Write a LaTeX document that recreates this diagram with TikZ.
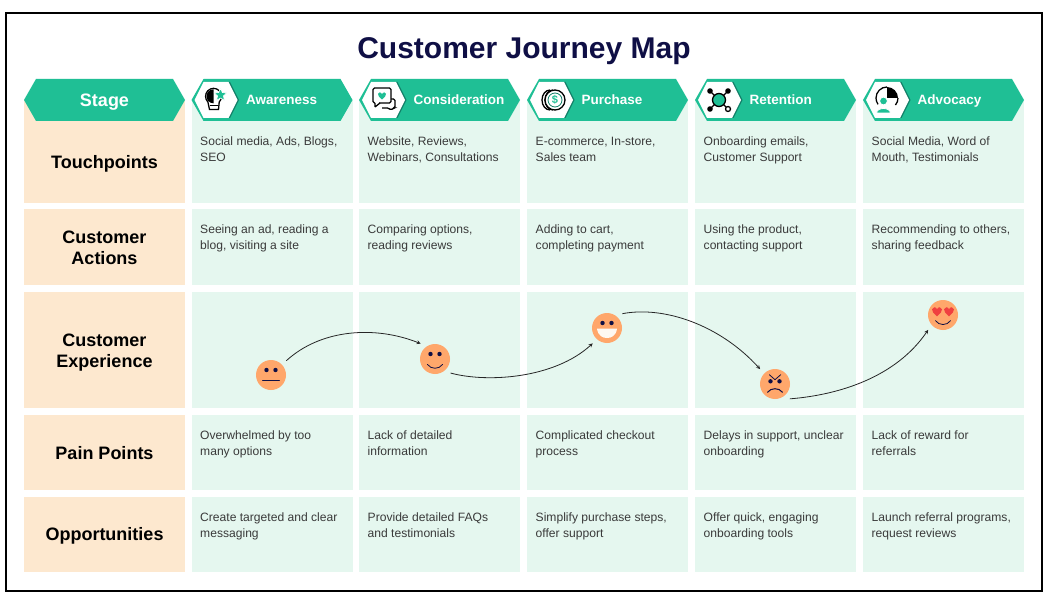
\documentclass[tikz,border=0pt]{standalone}
\usepackage{fontspec}
\setmainfont{Liberation Sans}
\usetikzlibrary{positioning, shapes.geometric}
\definecolor{headgreen}{HTML}{1FBF95}
\definecolor{edgegreen}{HTML}{128068}
\definecolor{cellgreen}{HTML}{E5F7EF}
\definecolor{peach}{HTML}{FDE8CF}
\definecolor{faceorange}{HTML}{FFA76B}
\definecolor{navy}{HTML}{0F0F45}
\definecolor{heartred}{HTML}{F04040}
\definecolor{inktext}{HTML}{3A3A3A}
\tikzset{
  labelcell/.style={fill=peach, anchor=north west, minimum width=161pt, inner sep=0pt},
  labeltext/.style={inner sep=0pt, align=center, font=\fontsize{18}{21}\selectfont\bfseries},
  cell/.style={fill=cellgreen, anchor=north west, minimum width=161pt, inner sep=0pt},
  celltext/.style={anchor=north west, inner sep=0pt, align=left, text=inktext, font=\fontsize{12.1}{16}\selectfont},
  headtext/.style={anchor=base west, inner sep=0pt, text=white, font=\fontsize{13.5}{15}\selectfont\bfseries},
  face/.style={circle, fill=faceorange, minimum size=30pt, inner sep=0pt, outer sep=6pt},
  flow/.style={-stealth, line width=.8pt, draw=black!85},
  eye/.style={fill=navy},
  mouth/.style={draw=navy, line width=.8pt, line cap=round},
  iconline/.style={draw=black, line width=1.3pt}
}
\newcommand{\heartshape}[3]{\fill[#3, shift={(#1)}, scale=#2] (0,5) .. controls (-3,2) and (-5.5,.5) .. (-5,-2) .. controls (-4.5,-4.5) and (-1,-5) .. (0,-2) .. controls (1,-5) and (4.5,-4.5) .. (5,-2) .. controls (5.5,.5) and (3,2) .. (0,5) -- cycle;}
\begin{document}
\begin{tikzpicture}[x=1pt,y=-1pt]
\useasboundingbox (0,0) rectangle (1054,604);
\fill[white] (0,0) rectangle (1054,604);
\draw[line width=2pt, black] (6,13) rectangle (1042,591);
\node[font=\fontsize{30}{33}\selectfont\bfseries, text=navy] (title) at (524,51) {Customer Journey Map};

% row labels
\node[labelcell, minimum height=103pt] (touchlabel) at (24,100) {};
\node[labelcell, minimum height=76pt] (actionlabel) at (24,209) {};
\node[labelcell, minimum height=116pt] (explabel) at (24,292) {};
\node[labelcell, minimum height=75pt] (painlabel) at (24,415) {};
\node[labelcell, minimum height=75pt] (opplabel) at (24,497) {};
\node[labeltext] (touchtext) at (104.5,163.5) {Touchpoints};
\node[labeltext] (actiontext) at (104.5,248) {Customer\\Actions};
\node[labeltext] (exptext) at (104.5,353) {Customer\\Experience};
\node[labeltext] (paintext) at (104.5,453) {Pain Points};
\node[labeltext] (opptext) at (104.5,535.5) {Opportunities};

% touchpoints
\foreach \name/\x/\txt in {touchA/191.5/{Social media, Ads, Blogs,\\SEO},
  touchB/359/{Website, Reviews,\\Webinars, Consultations},
  touchC/527/{E-commerce, In-store,\\Sales team},
  touchD/695/{Onboarding emails,\\Customer Support},
  touchE/863/{Social Media, Word of\\Mouth, Testimonials}}
  {\node[cell, minimum height=103pt] (\name) at (\x,100) {};
   \node[celltext] (\name text) at (\x+8.5,136.5) {\txt};}

% actions
\foreach \name/\x/\txt in {actionA/191.5/{Seeing an ad, reading a\\blog, visiting a site},
  actionB/359/{Comparing options,\\reading reviews},
  actionC/527/{Adding to cart,\\completing payment},
  actionD/695/{Using the product,\\contacting support},
  actionE/863/{Recommending to others,\\sharing feedback}}
  {\node[cell, minimum height=76pt] (\name) at (\x,209) {};
   \node[celltext] (\name text) at (\x+8.5,224.5) {\txt};}

% experience
\foreach \name/\x in {expA/191.5, expB/359, expC/527, expD/695, expE/863}
  \node[cell, minimum height=116pt] (\name) at (\x,292) {};

% pain points
\foreach \name/\x/\txt in {painA/191.5/{Overwhelmed by too\\many options},
  painB/359/{Lack of detailed\\information},
  painC/527/{Complicated checkout\\process},
  painD/695/{Delays in support, unclear\\onboarding},
  painE/863/{Lack of reward for\\referrals}}
  {\node[cell, minimum height=75pt] (\name) at (\x,415) {};
   \node[celltext] (\name text) at (\x+8.5,430.5) {\txt};}

% opportunities
\foreach \name/\x/\txt in {oppA/191.5/{Create targeted and clear\\messaging},
  oppB/359/{Provide detailed FAQs\\and testimonials},
  oppC/527/{Simplify purchase steps,\\offer support},
  oppD/695/{Offer quick, engaging\\onboarding tools},
  oppE/863/{Launch referral programs,\\request reviews}}
  {\node[cell, minimum height=75pt] (\name) at (\x,497) {};
   \node[celltext] (\name text) at (\x+8.5,512.5) {\txt};}

% stage banners
\fill[headgreen] (24,100) -- ++(12,-21) -- ++(137,0) -- ++(12,21) -- ++(-12,21) -- ++(-137,0) -- cycle;
\node[text=white, font=\fontsize{18}{21}\selectfont\bfseries] (stage) at (104.5,102) {Stage};
\foreach \name/\x/\txt in {aware/191.5/Awareness, consider/359/Consideration, purchase/527/Purchase, retain/695/Retention, advocate/863/Advocacy}
  {\fill[headgreen] (\x,100) -- ++(12,-21) -- ++(137,0) -- ++(12,21) -- ++(-12,21) -- ++(-137,0) -- cycle;
   \fill[edgegreen] (\x+4,100) -- ++(9,-18) -- ++(25.5,0) -- ++(9,18) -- ++(-9,18) -- ++(-25.5,0) -- cycle;
   \fill[white] (\x+3,100) -- ++(9,-18) -- ++(25,0) -- ++(9,18) -- ++(-9,18) -- ++(-25,0) -- cycle;
   \node[headtext] (\name) at (\x+54.5,105) {\txt};}

% icons
\begin{scope}[shift={(214.5,100)}]
  \draw[iconline] (-6.6,2) arc (-225:45:8) -- (4,9.5) -- (-5,9.5) -- cycle;
  \fill[black] (-1,-10.7) arc (-90:-270:7) -- cycle;
  \draw[iconline] (-4.5,5.5) -- (3.5,5.5);
  \node[star, star points=5, star point ratio=2.1, fill=headgreen, draw=white, line width=.6pt, minimum size=13pt, inner sep=0pt] (bulbstar) at (6,-5) {};
\end{scope}
\begin{scope}[shift={(382,100)}]
  \draw[iconline, rounded corners=1.5pt] (5,-1) -- (13,-1) -- (13,8) -- (11,8) -- (9,10.5) -- (7,8) -- (0,8);
  \draw[iconline, fill=white, rounded corners=1.5pt] (-9,-12) rectangle (9,3);
  \fill[white] (-7,2) rectangle (-3,4.5);
  \draw[iconline, rounded corners=.5pt] (-7,3) -- (-7,7) -- (-2,3);
  \heartshape{0,-4.5}{.8}{headgreen}
\end{scope}
\begin{scope}[shift={(550,100)}]
  \draw[iconline] (0,-10) arc (-90:-270:8 and 10);
  \draw[iconline] (3,-10) arc (-90:-270:8 and 10);
  \draw[iconline, fill=white] (5,0) circle (10);
  \draw[edgegreen, line width=.8pt] (5,0) circle (7);
  \node[text=headgreen, inner sep=0pt, font=\fontsize{11}{11}\selectfont\bfseries] (coinsign) at (5,0) {\$};
\end{scope}
\begin{scope}[shift={(719,100)}]
  \draw[iconline] (-8,-8) -- (-3,-3) (8,-8) -- (3,-3) (-8,8) -- (-3,3) (8,8) -- (4,4);
  \draw[iconline, fill=headgreen] (0,0) circle (6.5);
  \fill[black] (-9,-9) circle (2.8) (9,-9) circle (2.8) (-9,9) circle (2.8);
  \draw[iconline, fill=white] (9,9) circle (2.5);
\end{scope}
\begin{scope}[shift={(887,98)}]
  \fill[black] (0,0) -- (0,-11) arc (-90:0:11) -- cycle;
  \draw[iconline] (11,0) arc (0:40:11);
  \draw[iconline] (0,-11) arc (-90:-215:11);
  \draw[white, line width=1pt, fill=headgreen] (-3.5,3) circle (4);
  \fill[white] (-12,13) rectangle (6,15);
  \draw[white, line width=.8pt, fill=headgreen] (-10.5,15) .. controls (-10,9) and (3,9) .. (3.5,15) -- cycle;
\end{scope}

% faces
\node[face] (neutral) at (271,375) {};
\node[face] (happy) at (435,359) {};
\node[face] (grin) at (607,328) {};
\node[face] (angry) at (775,384) {};
\node[face] (love) at (943,315) {};

\begin{scope}[shift={(neutral.center)}]
  \fill[eye] (-4.5,-5) circle (2.2) (4.5,-5) circle (2.2);
  \draw[mouth] (-8.5,5.3) -- (8.5,5.3);
\end{scope}
\begin{scope}[shift={(happy.center)}]
  \fill[eye] (-4.5,-5) circle (2.2) (4.5,-5) circle (2.2);
  \draw[mouth] (-7.5,5.5) .. controls (-4,10.5) and (4,10.5) .. (7.5,5.5);
\end{scope}
\begin{scope}[shift={(grin.center)}]
  \fill[eye] (-4.5,-5) circle (2.2) (4.5,-5) circle (2.2);
  \fill[white!70!peach] (-10,.7) -- (10,.7) .. controls (9,8) and (4,10) .. (0,10) .. controls (-4,10) and (-9,8) .. (-10,.7) -- cycle;
\end{scope}
\begin{scope}[shift={(angry.center)}]
  \fill[eye] (-4.5,-2.7) circle (2.2) (4.5,-2.7) circle (2.2);
  \draw[mouth] (-5.7,-9.3) -- (0,-4.3) -- (5.7,-9.3);
  \draw[mouth, line width=1pt] (-7.5,8.3) .. controls (-4,3.5) and (4,3.5) .. (7.5,8.3);
\end{scope}
\begin{scope}[shift={(love.center)}]
  \heartshape{-6,-3.7}{1}{heartred}
  \heartshape{6,-3.7}{1}{heartred}
  \draw[mouth] (-7.5,5.7) .. controls (-4,10.8) and (4,10.8) .. (7.5,5.7);
\end{scope}

% journey
\draw[flow] (neutral.43) .. controls +(35,-32) and +(-45,-18) .. (happy.133);
\draw[flow] (happy.-42) .. controls +(37,10) and +(-38,35) .. (grin.227);
\draw[flow] (grin.43) .. controls +(42,-8) and +(-40,-44) .. (angry.135);
\draw[flow] (angry.-45) .. controls +(50,-4) and +(-32,47) .. (love.225);
\end{tikzpicture}
\end{document}
